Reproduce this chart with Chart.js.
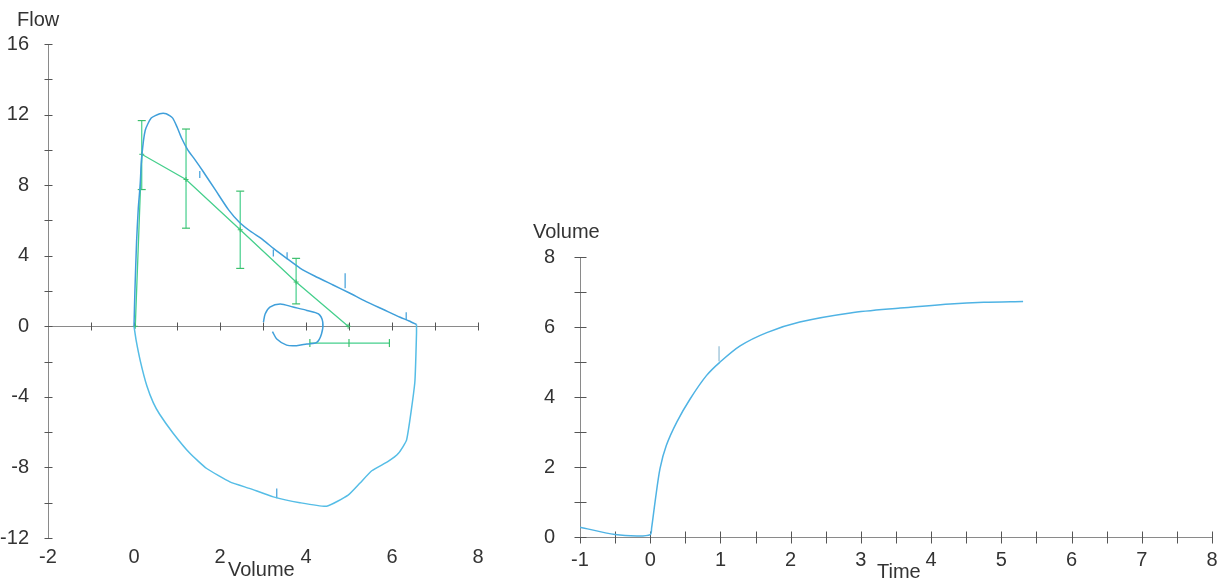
<!DOCTYPE html>
<html><head><meta charset="utf-8">
<script src="https://cdn.jsdelivr.net/npm/chart.js@4.4.1/dist/chart.umd.min.js"></script>
<style>
html,body{margin:0;padding:0;background:#fff;width:1230px;height:582px;overflow:hidden;}
#wrap{position:relative;width:1230px;height:582px;}
canvas{position:absolute;top:0;}
.lbl{position:absolute;font-family:'Liberation Sans',Arial,sans-serif;font-size:20px;line-height:20px;color:#333;white-space:nowrap;}
</style></head><body>
<div id="wrap">
<canvas id="fv" width="540" height="582" style="left:0"></canvas>
<canvas id="vt" width="690" height="582" style="left:540px"></canvas>
<div class="lbl" style="left:17px;top:9px">Flow</div>
<div class="lbl" style="left:228px;top:559px">Volume</div>
<div class="lbl" style="left:533px;top:221px">Volume</div>
<div class="lbl" style="left:877px;top:561px">Time</div>
</div>
<script>
const FONT = "'Liberation Sans', Arial, sans-serif";

// ---- Flow-volume loop (left) ----
const expVolume = [0,0.02,0.06,0.1,0.14,0.18,0.26,0.4,0.6,0.75,0.9,1.0,1.1,1.25,1.4,1.6,1.9,2.2,2.45,2.7,3.0,3.25,3.55,3.86,4.2,4.63,5.0,5.4,5.8,6.19,6.4,6.57];
const expFlow   = [0,1.9,4.8,6.7,7.9,9.6,11.1,11.8,12.05,12.05,11.8,11.3,10.7,10.0,9.5,8.8,7.7,6.6,5.9,5.4,4.9,4.4,3.85,3.3,2.85,2.34,1.9,1.4,0.95,0.51,0.3,0.1];
const inspVolume = [6.57,6.57,6.53,6.34,6.15,5.91,5.53,5.25,4.98,4.48,3.86,3.24,2.70,2.23,1.69,1.30,0.91,0.6,0.45,0.3,0.15,0.05,0];
const inspFlow   = [0.1,-0.4,-3.2,-6.44,-7.2,-7.66,-8.19,-8.9,-9.57,-10.2,-10.0,-9.67,-9.2,-8.82,-8.06,-7.2,-6.06,-5.0,-4.34,-3.39,-2.0,-0.8,0];
const tidalVolume = [3.01,3.05,3.16,3.40,3.70,4.02,4.29,4.39,4.36,4.25,4.02,3.78,3.55,3.32,3.22];
const tidalFlow   = [0.23,0.7,1.09,1.27,1.09,0.9,0.7,0.23,-0.44,-0.91,-1.0,-1.1,-1.07,-0.72,-0.3];
const predVolume = [0.03,0.18,1.21,2.47,3.77,4.98];
const predFlow   = [0,9.75,8.32,5.47,2.51,0];
const errVolume = [0.18,1.21,2.47,3.77];
const errLow    = [7.75,5.56,3.28,1.27];
const errHigh   = [11.66,11.18,7.66,3.85];
const fvcFlow = -0.95;
const fvcRange = [4.09,5.0,5.94];
const markVolume = [1.53,3.24,3.56,4.91,6.33,3.32];
const markLow    = [8.4,3.95,3.8,2.15,0.35,-9.75];
const markHigh   = [8.8,4.35,4.2,3.0,0.8,-9.2];
const flowTickLabels = [16,12,8,4,0,-4,-8,-12];
const volumeTickLabels = [-2,0,2,4,6,8];

// ---- Volume-time (right) ----
const timeS   = [-1,-0.5,-0.19,0,0.02,0.07,0.14,0.23,0.38,0.57,0.8,0.99,1.28,1.66,2.13,2.85,3.56,4.27,4.75,5.31];
const volumeL = [0.28,0.07,0.03,0.07,0.26,1.02,1.96,2.62,3.29,3.95,4.61,4.99,5.46,5.84,6.14,6.40,6.54,6.66,6.71,6.73];
const vtMarkTime = [0.98];
const vtMarkLow  = [5.02];
const vtMarkHigh = [5.45];
const vtVolumeTickLabels = [0,2,4,6,8];
const timeTickLabels = [-1,0,1,2,3,4,5,6,7,8];

const pts = (xs, ys) => xs.map((x, i) => ({x, y: ys[i]}));
function vsegs(xs, lo, hi){
  const out = [];
  xs.forEach((x, i) => { out.push({x, y: lo[i]}, {x, y: hi[i]}, {x, y: null}); });
  return out;
}

function axesPlugin(specs){
  return {id: 'crossAxes', beforeDatasetsDraw(chart){
    const ctx = chart.ctx; ctx.save(); ctx.lineWidth = 1;
    specs.forEach(s => {
      const sc = chart.scales[s.scale], other = chart.scales[s.other];
      const pos = Math.round(other.getPixelForValue(s.at)) + 0.5;
      ctx.strokeStyle = s.lineColor; ctx.beginPath();
      if (sc.isHorizontal()) { ctx.moveTo(sc.left, pos); ctx.lineTo(sc.right, pos); }
      else { ctx.moveTo(pos, sc.top); ctx.lineTo(pos, sc.bottom); }
      ctx.stroke();
      ctx.strokeStyle = s.tickColor; ctx.beginPath();
      sc.ticks.forEach(t => {
        const p = Math.round(sc.getPixelForValue(t.value)) + 0.5;
        if (sc.isHorizontal()) { ctx.moveTo(p, pos - s.len); ctx.lineTo(p, pos + s.len); }
        else { ctx.moveTo(pos - s.len, p); ctx.lineTo(pos + s.len, p); }
      });
      ctx.stroke();
    });
    ctx.restore();
  }};
}

const tickFont = {family: FONT, size: 20};
const TXT = '#333';
const BLUE1 = '#3f9fda', BLUE2 = '#55bde6', GREEN = '#45cf8c', GREEN2 = '#3cbf6c';

new Chart(document.getElementById('fv'), {
  type: 'scatter',
  data: {datasets: [
    {data: pts(expVolume, expFlow), showLine: true, borderColor: BLUE1, borderWidth: 1.5, pointRadius: 0, tension: 0.2},
    {data: pts(inspVolume, inspFlow), showLine: true, borderColor: BLUE2, borderWidth: 1.5, pointRadius: 0, tension: 0.15},
    {data: pts(tidalVolume, tidalFlow), showLine: true, borderColor: BLUE1, borderWidth: 1.5, pointRadius: 0, tension: 0.3},
    {data: vsegs(markVolume, markLow, markHigh), showLine: true, spanGaps: false, borderColor: BLUE1, borderWidth: 1.2, pointRadius: 0},
    {data: pts(predVolume, predFlow), showLine: true, borderColor: GREEN, borderWidth: 1.3, pointStyle: 'cross', pointRadius: 2.5, pointBorderColor: GREEN2, pointBorderWidth: 1},
    {data: vsegs(errVolume, errLow, errHigh), showLine: true, spanGaps: false, borderColor: GREEN, borderWidth: 1.2, pointStyle: 'line', pointRadius: 4, pointBorderColor: GREEN2, pointBorderWidth: 1.2},
    {data: fvcRange.map(x => ({x, y: fvcFlow})), showLine: true, borderColor: GREEN, borderWidth: 1.2, pointStyle: 'line', pointRotation: 90, pointRadius: 4, pointBorderColor: GREEN2, pointBorderWidth: 1.2}
  ]},
  options: {
    responsive: false, animation: false, devicePixelRatio: 1,
    layout: {padding: {top: 44, right: 62, left: 0, bottom: 0}},
    plugins: {legend: {display: false}, tooltip: {enabled: false}},
    scales: {
      x: {type: 'linear', min: -2, max: 8,
        grid: {display: false}, border: {display: false},
        ticks: {stepSize: 1, autoSkip: false, maxRotation: 0, padding: -1, color: TXT, font: tickFont,
          callback: v => volumeTickLabels.includes(v) ? String(v) : ''},
        afterFit: s => { s.height = 44; }},
      y: {type: 'linear', min: -12, max: 16,
        grid: {display: false}, border: {display: false},
        ticks: {stepSize: 2, autoSkip: false, padding: 11, color: TXT, font: tickFont,
          callback: v => flowTickLabels.includes(v) ? String(v) : ''},
        afterFit: s => { s.width = 48; }}
    }
  },
  plugins: [axesPlugin([
    {scale: 'x', other: 'y', at: 0, len: 4, lineColor: '#8a8a8a', tickColor: '#555'},
    {scale: 'y', other: 'x', at: -2, len: 4, lineColor: '#8a8a8a', tickColor: '#555'}
  ])]
});

new Chart(document.getElementById('vt'), {
  type: 'scatter',
  data: {datasets: [
    {data: pts(timeS, volumeL), showLine: true, borderColor: '#4fb3e4', borderWidth: 1.5, pointRadius: 0, tension: 0.3},
    {data: vsegs(vtMarkTime, vtMarkLow, vtMarkHigh), showLine: true, spanGaps: false, borderColor: '#7aaecb', borderWidth: 1, pointRadius: 0}
  ]},
  options: {
    responsive: false, animation: false, devicePixelRatio: 1,
    layout: {padding: {top: 257, right: 18, left: 0, bottom: 0}},
    plugins: {legend: {display: false}, tooltip: {enabled: false}},
    scales: {
      x: {type: 'linear', min: -1, max: 8,
        grid: {display: false}, border: {display: false},
        ticks: {stepSize: 0.5, autoSkip: false, maxRotation: 0, padding: 3, color: TXT, font: tickFont,
          callback: v => timeTickLabels.includes(v) ? String(v) : ''},
        afterFit: s => { s.height = 45; }},
      y: {type: 'linear', min: 0, max: 8,
        grid: {display: false}, border: {display: false},
        ticks: {stepSize: 1, autoSkip: false, padding: 17, color: TXT, font: tickFont,
          callback: v => vtVolumeTickLabels.includes(v) ? String(v) : ''},
        afterFit: s => { s.width = 40; }}
    }
  },
  plugins: [axesPlugin([
    {scale: 'x', other: 'y', at: 0, len: 6, lineColor: '#8a8a8a', tickColor: '#555'},
    {scale: 'y', other: 'x', at: -1, len: 6, lineColor: '#8a8a8a', tickColor: '#555'}
  ])]
});
</script>
</body></html>
